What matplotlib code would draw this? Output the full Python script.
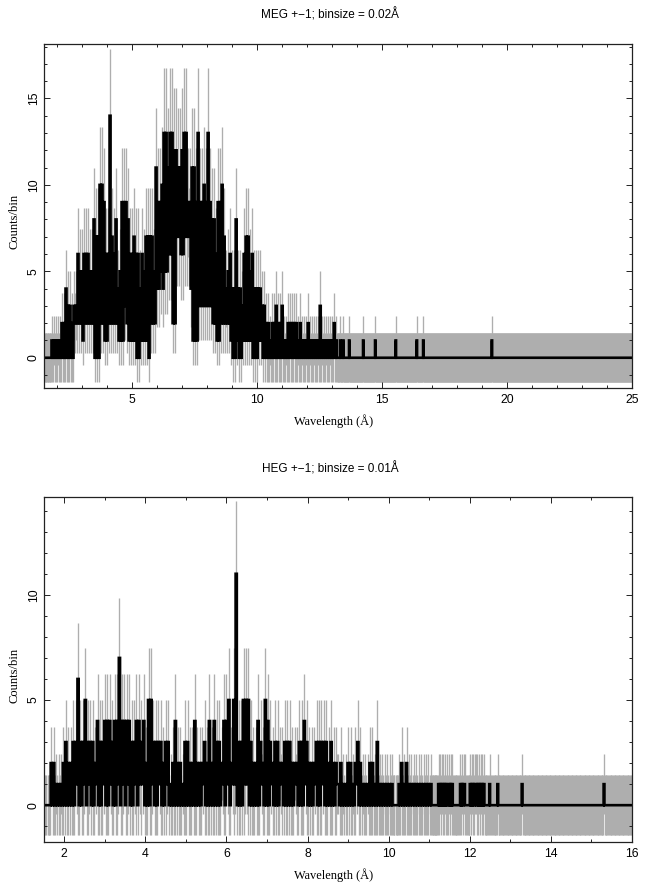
import numpy as np
import matplotlib
matplotlib.use("Agg")
import matplotlib.pyplot as plt
from matplotlib.ticker import MultipleLocator

# MEG: alternating upper / lower counts, 1.5 A upward
meg_high = [0,0,0,0,1,1,1,1,1,2, 2,4,3,3,2,3,3,6,5,5,
            6,6,6,5,5,8,7,7,10,10, 9,6,6,14,7,6,8,4,5,9,
            9,9,8,6,6,7,6,6,4,6, 5,7,7,7,7,5,11,9,9,10,
            13,13,11,13,13,12,12,11,11,12, 13,13,9,9,11,11,9,13,9,9,
            10,9,13,9,8,8,6,9,9,10, 7,4,5,6,4,4,8,4,4,3,
            6,7,7,5,6,4,4,4,4,3, 3,2,2,1,2,2,3,2,2,3,
            1,1,2,2,2,2,2,1,2,1, 1,1,2,1,1,1,1,1,3,1,
            1,1,1,1,1,2,1]
meg_low  = [0,0,0,0,0,0,0,0,0,0, 0,0,0,0,0,2,2,2,2,1,
            2,2,2,2,2,0,0,0,2,2, 1,1,2,2,2,2,2,1,1,1,
            3,2,1,1,1,1,0,0,1,1, 1,1,0,2,2,2,4,4,5,4,
            5,5,6,6,2,2,7,7,6,6, 7,7,7,4,1,1,1,3,3,3,
            3,3,3,3,2,2,1,1,2,2, 2,2,2,1,0,0,1,0,0,1,
            1,1,1,1,0,0,0,1,1,0, 0,0,0,0,0,0,0,0,0,0,
            0,0,0,0,0,0,0,0,0,0, 0,0,0,0,0,0,0,0,0,0,
            0,0,0,0,0,0,0]
meg_single_wave = [13.33, 13.45, 13.7, 14.25, 14.73, 15.56, 16.4, 16.65, 19.4]
# spans (start, end, spacing) where further zero-count bins thicken the grey band
meg_zero_spans = [(1.5, 1.9, 0.08), (1.98, 2.65, 0.16), (10.46, 13.2, 0.16)]

# HEG: same reading, 1.5 A upward
heg_high = [0,0,0,2,2,1,1,1,2,3, 2,2,3,3,6,3,3,5,3,3,
            3,2,4,3,3,4,4,4,3,4, 4,7,4,4,4,4,3,3,4,4,
            3,4,2,5,5,3,3,3,3,2, 3,3,1,2,4,2,2,1,3,3,
            2,2,4,2,2,2,3,2,4,2, 4,3,3,2,4,4,5,2,5,11,
            3,3,5,5,5,3,2,2,4,3, 2,5,4,3,2,3,3,2,2,3,
            3,3,2,2,2,3,3,4,3,2, 2,2,3,3,3,3,3,2,3,2,
            2,1,2,1,1,2,2,1,2,3, 2,1,1,1,2,2,1,3,1,1,
            1,1,1,1,0,0,1,2,1,2, 1,1,1,1,1,1,1,1,1,1]
heg_low  = [0,0,0,0,0,0,0,0,0,0, 0,0,0,1,0,0,1,0,1,0,
            0,1,0,0,1,0,0,1,0,0, 1,0,1,0,1,0,0,1,0,1,
            1,0,0,0,1,0,0,1,0,0, 1,0,0,0,0,0,0,0,0,0,
            0,0,0,0,0,1,0,0,0,0, 0,0,0,1,0,1,0,1,1,0,
            0,0,1,1,0,0,0,0,0,1, 0,0,0,1,0,0,0,1,0,0,
            0,0,0,1,0,0,0,1,0,0, 0,1,0,0,1,0,0,0,0,0,
            1,0,0,0,0,0,0,0,1,0, 0,0,0,0,0,0,0,0,0,0,
            0,0,0,0,0,0,0,0,0,0, 0,0,0,0,0,0,0,0,0,0]
heg_single_wave = [11.23, 11.27, 11.31, 11.35, 11.39, 11.42, 11.48, 11.52, 11.56,
                   11.76, 11.80, 11.84, 11.87, 12.00, 12.04, 12.08, 12.12, 12.15,
                   12.19, 12.23, 12.27, 12.31, 12.34, 12.48, 12.69, 13.29, 15.31]
heg_zero_spans = [(1.5, 9.6, 0.12), (9.6, 11.2, 0.06)]

# half-length of the grey bar for a bin holding 0, 1, 2 ... counts
count_error = [1.43, 1.41, 1.73, 2.0, 2.24, 2.45, 2.65, 2.83, 3.0, 3.16,
               3.32, 3.46, 3.61, 3.74, 3.87]

titles = ["MEG +\u22121; binsize = 0.02\u00c5", "HEG +\u22121; binsize = 0.01\u00c5"]
xlabel = "Wavelength (\u00c5)"
ylabel = "Counts/bin"

W, H = 649, 891
BLACK_LW = 1.9
GREY = "#aeaeae"
SANS = "Liberation Sans"
SERIF = "Liberation Serif"


def series(high, low, core_step, tail_step, singles, end):
    core = np.column_stack([high, low]).ravel()
    x_core = 1.5 + core_step * np.arange(len(core))
    x_tail = np.arange(x_core[-1] + tail_step, end + tail_step, tail_step)
    y_tail = np.zeros(len(x_tail), dtype=int)
    for w in singles:
        y_tail[np.argmin(np.abs(x_tail - w))] = 1
    return np.concatenate([x_core, x_tail]), np.concatenate([core, y_tail])


def panel(box, x, y, xlim, ylim, xmajor, title, spans):
    l, t, r, b = box
    ax = fig.add_axes([l / W, 1 - b / H, (r - l) / W, (b - t) / H])
    err = np.array(count_error)[y]
    ax.vlines(x, y - err, y + err, color=GREY, lw=0.95, zorder=1)
    for a, c, step in spans:
        xs = np.arange(a, c, step)
        ax.vlines(xs, -count_error[0], count_error[0], color=GREY, lw=0.95, zorder=1)
    ax.step(x, y, where="mid", color="black", lw=BLACK_LW, zorder=2,
            solid_joinstyle="miter")
    ax.set_xlim(*xlim)
    ax.set_ylim(*ylim)
    ax.xaxis.set_major_locator(MultipleLocator(xmajor))
    ax.xaxis.set_minor_locator(MultipleLocator(1))
    ax.yaxis.set_major_locator(MultipleLocator(5))
    ax.yaxis.set_minor_locator(MultipleLocator(1))
    ax.tick_params(which="major", direction="in", length=4.5, width=0.7,
                   top=True, right=True, labelsize=8.8, color="#222222")
    ax.tick_params(axis="x", which="major", pad=4)
    ax.tick_params(axis="y", which="major", pad=3)
    ax.tick_params(which="minor", direction="in", length=2.3, width=0.7,
                   top=True, right=True, color="#222222")
    for lab in ax.get_xticklabels():
        lab.set_fontfamily(SANS)
    for lab in ax.get_yticklabels():
        lab.set_fontfamily(SANS)
        lab.set_rotation(90)
        lab.set_va("center")
    for s in ax.spines.values():
        s.set_linewidth(0.9)
        s.set_color("#222222")
        s.set_zorder(5)
    ax.set_xlabel(xlabel, family=SERIF, fontsize=8.9, va="top")
    ax.set_ylabel(ylabel, family=SERIF, fontsize=9.0, va="top")
    w, h = r - l, b - t
    ax.xaxis.set_label_coords((333.5 - l) / w, -26 / h)
    ax.yaxis.set_label_coords(-35 / w, 0.5 - 5.5 / h)
    ax.set_title(title, family=SANS, fontsize=8.5, x=(330 - l) / w, y=1 + 22 / h,
                 va="bottom", pad=0)
    return ax


fig = plt.figure(figsize=(W / 100, H / 100), dpi=100)

x1, y1 = series(meg_high, meg_low, 0.04, 0.02, meg_single_wave, 25.0)
panel((44, 44, 632, 388), x1, y1, (1.5, 25), (-1.75, 18.15), 5, titles[0], meg_zero_spans)

x2, y2 = series(heg_high, heg_low, 0.03, 0.02, heg_single_wave, 16.0)
panel((44, 497, 632, 842), x2, y2, (1.5, 16), (-1.75, 14.65), 2, titles[1], heg_zero_spans)

fig.savefig("out.png", dpi=100)
